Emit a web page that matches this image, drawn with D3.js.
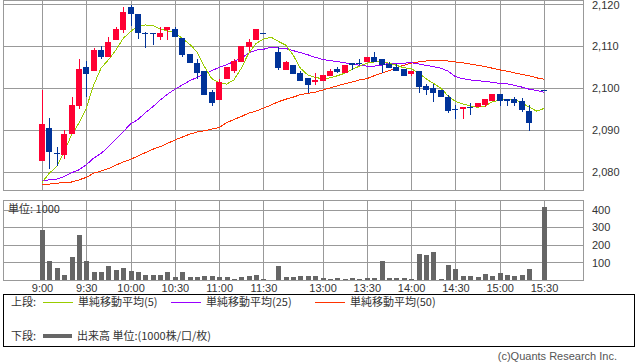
<!DOCTYPE html>
<html>
<head>
<meta charset="utf-8">
<script src="https://d3js.org/d3.v7.min.js"></script>
<style>
  body { margin: 0; background: #fff; }
  svg { display: block; font-family: "Liberation Sans", Arial, sans-serif; }
  .grid line { stroke: #999; shape-rendering: crispEdges; }
  .grid path { display: none; }
  .grid text { fill: #333; font-size: 11px; }
  .jp { font-family: "Noto Sans CJK JP", sans-serif; font-size: 11px; fill: #333; }
</style>
</head>
<body>
<svg width="638" height="362"></svg>
<script>
// 5-minute slots, lunch placeholder and closing-auction slot included
const times = ["9:00","9:05","9:10","9:15","9:20","9:25","9:30","9:35","9:40","9:45","9:50","9:55",
  "10:00","10:05","10:10","10:15","10:20","10:25","10:30","10:35","10:40","10:45","10:50","10:55",
  "11:00","11:05","11:10","11:15","11:20","11:25","11:30","昼休み",
  "12:30","12:35","12:40","12:45","12:50","12:55","13:00","13:05","13:10","13:15","13:20","13:25",
  "13:30","13:35","13:40","13:45","13:50","13:55","14:00","14:05","14:10","14:15","14:20","14:25",
  "14:30","14:35","14:40","14:45","14:50","14:55","15:00","15:05","15:10","15:15","15:20","15:25","15:30"];

const tickTimes = ["9:00","9:30","10:00","10:30","11:00","11:30","13:00","13:30","14:00","14:30","15:00","15:30"];
const priceTicks = [2080, 2090, 2100, 2110, 2120];
const volTicks = [100, 200, 300, 400];

const opens = [2082.7,2090.5,2084.5,2084.0,2089.0,2095.7,2105.0,2104.0,2109.0,2107.3,2111.3,2113.8,
  2119.2,2117.6,2113.0,2113.0,2112.2,2113.8,2114.0,2111.9,2108.1,2105.9,2104.1,2099.0,
  2097.1,2102.2,2104.0,2106.2,2109.8,2111.3,2113.0,null,
  2108.6,2104.3,2105.4,2103.6,2102.4,2101.3,2101.7,2102.9,2104.4,2103.5,2105.9,2106.0,
  2106.2,2107.3,2106.8,2105.7,2105.1,2104.4,2103.3,2104.1,2100.5,2100.0,2099.5,2097.9,
  2094.9,2094.9,2095.5,2095.5,2095.9,2096.8,2098.6,2097.3,2097.3,2097.0,2094.5,null,2099.5];
const highs = [2099.5,2092.9,2086.0,2090.0,2097.8,2106.8,2106.4,2109.6,2110.0,2112.1,2114.6,2119.2,
  2119.8,2117.6,2113.3,2113.0,2114.5,2114.5,2114.5,2111.9,2108.1,2106.8,2104.1,2099.5,
  2102.2,2105.1,2106.8,2110.0,2111.6,2114.1,2113.0,null,
  2109.8,2106.5,2105.4,2104.1,2102.4,2103.5,2103.0,2104.6,2105.1,2105.4,2105.9,2106.8,
  2107.3,2108.6,2106.8,2106.2,2105.6,2104.4,2104.1,2104.1,2101.0,2101.0,2099.5,2098.4,
  2095.9,2095.4,2096.3,2096.3,2097.3,2098.6,2098.6,2097.3,2097.8,2097.5,2095.9,null,2099.5];
const lows = [2082.7,2080.8,2081.3,2083.2,2089.0,2094.9,2097.8,2104.0,2106.8,2107.3,2111.3,2113.2,
  2114.8,2111.7,2109.4,2110.3,2111.3,2111.3,2112.2,2107.3,2105.9,2102.2,2098.4,2095.7,
  2097.1,2102.2,2103.5,2106.2,2108.9,2111.3,2113.0,null,
  2104.3,2104.3,2103.3,2101.7,2098.9,2100.8,2101.7,2102.9,2103.5,2103.5,2104.3,2105.4,
  2106.2,2106.2,2103.6,2104.8,2104.0,2102.9,2102.9,2098.9,2098.4,2096.7,2097.8,2094.0,
  2092.7,2092.7,2093.5,2095.5,2095.4,2096.8,2095.7,2095.7,2095.7,2094.3,2089.8,null,2099.5];
const closes = [2091.4,2084.8,2084.5,2089.0,2095.9,2104.4,2103.4,2109.0,2107.3,2111.0,2114.0,2118.1,
  2117.5,2113.0,2113.0,2113.0,2113.2,2114.5,2112.2,2107.9,2105.9,2103.5,2098.4,2096.4,
  2101.4,2105.1,2106.5,2110.0,2111.0,2114.1,2113.0,null,
  2104.8,2106.1,2103.3,2101.7,2100.8,2101.9,2103.0,2104.1,2103.9,2105.4,2105.4,2106.0,
  2107.3,2106.2,2105.4,2104.8,2104.0,2102.9,2104.1,2100.3,2099.4,2098.9,2097.8,2094.5,
  2094.9,2095.4,2095.5,2096.3,2097.3,2098.6,2097.0,2096.8,2096.3,2094.8,2091.7,null,2099.5];

// volume in units of 1000
const volumes = [287,109,70,29,131,257,109,44,44,80,55,69,
  51,44,29,29,29,44,17,44,17,17,23,23,
  17,17,6,17,23,29,3,null,
  80,17,17,23,23,23,10,6,10,6,10,6,
  10,10,109,10,10,10,6,147,141,158,6,86,
  63,23,23,17,32,23,40,29,23,29,63,null,417];

const ma5 = [2077.5,2079.7,2081.3,2084.8,2088.8,2091.6,2095.2,2100.7,2104.7,2106.7,2109.0,2111.8,
  2113.4,2114.8,2115.0,2114.9,2114.0,2113.6,2113.2,2111.8,2110.4,2108.6,2105.1,2102.2,
  2101.3,2100.9,2101.9,2104.7,2108.3,2110.6,2111.6,2112.1,
  2111.1,2110.2,2107.9,2104.7,2103.1,2102.5,2102.2,2102.4,2102.9,2103.5,2104.4,2105.2,
  2105.9,2106.2,2106.2,2105.9,2105.4,2104.8,2104.6,2103.6,2102.2,2101.1,2100.0,2098.1,
  2096.8,2096.2,2095.7,2095.4,2095.7,2096.7,2097.1,2097.3,2097.3,2096.5,2095.4,2094.5,2095.1];
const ma25 = [2078.0,2078.1,2078.3,2078.9,2079.8,2080.5,2081.7,2083.3,2084.4,2086.0,2087.8,2089.6,
  2091.4,2092.5,2094.1,2095.5,2097.1,2098.5,2099.7,2100.7,2101.7,2102.5,2103.3,2104.1,
  2104.9,2105.5,2106.3,2107.1,2108.3,2109.0,2109.2,2109.7,
  2109.5,2109.4,2108.9,2108.4,2107.9,2107.3,2106.8,2106.5,2106.3,2106.0,2105.7,2105.4,
  2105.2,2105.2,2105.4,2105.9,2105.9,2105.9,2106.0,2105.7,2105.4,2105.1,2104.7,2104.0,
  2102.7,2102.2,2101.9,2101.7,2101.6,2101.3,2101.1,2101.0,2100.6,2100.2,2099.7,2099.4,2099.0];
const ma50 = [2077.0,2077.1,2077.3,2077.5,2077.6,2078.1,2078.7,2079.7,2080.2,2080.8,2081.6,2082.4,
  2083.0,2083.8,2084.6,2085.4,2086.0,2086.8,2087.6,2088.3,2089.0,2089.5,2089.8,2090.2,
  2090.6,2091.7,2092.5,2093.2,2094.0,2094.5,2095.2,2095.9,
  2096.7,2097.3,2097.8,2098.4,2098.7,2099.0,2099.5,2100.0,2100.5,2101.0,2101.4,2101.9,
  2102.2,2102.9,2103.5,2104.1,2104.8,2105.4,2105.9,2106.2,2106.4,2106.6,2106.6,2106.4,
  2106.2,2106.0,2105.7,2105.4,2105.1,2104.7,2104.3,2104.0,2103.6,2103.2,2102.9,2102.4,2102.1];

document.addEventListener('DOMContentLoaded', () => {

    const svg = d3.select("svg"),
          left = 3,
          right = 583;

    const x = d3.scalePoint().domain(times).range([left, right]).padding(5.28);
    const y = d3.scaleLinear().domain([2075.7, 2120.7]).range([190, 1]);
    const yv = d3.scaleLinear().domain([0, 451]).range([280, 201]);

    const bars = times.map((t, i) => ({
        t: t, o: opens[i], h: highs[i], l: lows[i], c: closes[i], v: volumes[i]
    }));
    const cx = d => Math.round(x(d.t));

    // upper panel grid + price labels
    svg.append("g")
        .attr("class", "grid")
        .attr("transform", "translate(0,190)")
        .call(d3.axisBottom(x).tickValues(tickTimes).tickSize(-189).tickFormat(""));

    const priceAxis = svg.append("g")
        .attr("class", "grid")
        .attr("transform", "translate(" + right + ",0)")
        .call(d3.axisRight(y).tickValues(priceTicks).tickSize(-(right - left)).tickPadding(9)
            .tickFormat(d3.format(",")));
    // keep the top label inside the picture
    priceAxis.selectAll("text").filter(d => d === 2120).attr("dy", "0.42em");

    svg.append("rect")
        .attr("x", left + 0.5).attr("y", 0.5)
        .attr("width", right - left).attr("height", 190)
        .attr("fill", "none").attr("stroke", "#999")
        .attr("shape-rendering", "crispEdges");

    // lower panel grid + volume labels
    svg.append("g")
        .attr("class", "grid")
        .attr("transform", "translate(0,280)")
        .call(d3.axisBottom(x).tickValues(tickTimes).tickSize(-79).tickPadding(4));

    svg.append("g")
        .attr("class", "grid")
        .attr("transform", "translate(" + right + ",0)")
        .call(d3.axisRight(yv).tickValues(volTicks).tickSize(-(right - left)).tickPadding(9));

    svg.append("rect")
        .attr("x", left + 0.5).attr("y", 200.5)
        .attr("width", right - left).attr("height", 80)
        .attr("fill", "none").attr("stroke", "#999")
        .attr("shape-rendering", "crispEdges");

    svg.append("text")
        .attr("class", "jp")
        .attr("x", 8).attr("y", 213)
        .text("単位: 1000");

    // moving averages
    const maLine = d3.line()
        .defined(d => d.v != null)
        .x(d => x(d.t))
        .y(d => y(d.v));

    [[ma50, "#ff3300"], [ma25, "#9900ff"], [ma5, "#99cc00"]].forEach(([vals, col]) => {
        svg.append("path")
            .datum(times.map((t, i) => ({ t: t, v: vals[i] })))
            .attr("fill", "none")
            .attr("stroke", col)
            .attr("stroke-width", 1)
            .attr("shape-rendering", "crispEdges")
            .attr("d", maLine);
    });

    // candles
    const up = "#ff0033", down = "#003399";
    const candles = svg.append("g").selectAll("g")
        .data(bars.filter(d => d.o != null))
        .enter().append("g")
        .attr("shape-rendering", "crispEdges");

    candles.append("line")
        .attr("x1", d => cx(d) + 0.5).attr("x2", d => cx(d) + 0.5)
        .attr("y1", d => y(d.h)).attr("y2", d => y(d.l))
        .attr("stroke", d => d.c > d.o ? up : down);

    candles.append("rect")
        .attr("x", d => cx(d) - 3)
        .attr("y", d => Math.min(y(d.o), y(d.c)))
        .attr("width", 6)
        .attr("height", d => Math.max(1, Math.abs(y(d.o) - y(d.c))))
        .attr("fill", d => d.c > d.o ? up : down);

    // volume
    svg.append("g").selectAll("rect")
        .data(bars.filter(d => d.v != null))
        .enter().append("rect")
        .attr("x", d => cx(d) - 2)
        .attr("y", d => yv(d.v))
        .attr("width", 5)
        .attr("height", d => yv(0) - yv(d.v))
        .attr("fill", "#666")
        .attr("shape-rendering", "crispEdges");

    // legend
    const lg = svg.append("g");
    lg.append("rect")
        .attr("x", 3.5).attr("y", 294.5).attr("width", 631).attr("height", 52)
        .attr("fill", "none").attr("stroke", "#000");

    lg.append("text").attr("class", "jp").attr("x", 11).attr("y", 306).text("上段:");
    const items = [["単純移動平均(5)", "#99cc00", 43], ["単純移動平均(25)", "#9900ff", 171], ["単純移動平均(50)", "#ff3300", 315]];
    items.forEach(([label, col, lx]) => {
        lg.append("line")
            .attr("x1", lx).attr("x2", lx + 30).attr("y1", 302.5).attr("y2", 302.5)
            .attr("stroke", col);
        lg.append("text").attr("class", "jp").attr("x", lx + 35).attr("y", 306).text(label);
    });

    lg.append("text").attr("class", "jp").attr("x", 11).attr("y", 340).text("下段:");
    lg.append("line")
        .attr("x1", 43).attr("x2", 72).attr("y1", 336).attr("y2", 336)
        .attr("stroke", "#666").attr("stroke-width", 4);
    lg.append("text").attr("class", "jp").attr("x", 77).attr("y", 340).text("出来高 単位:(1000株/口/枚)");

    svg.append("text")
        .attr("x", 617).attr("y", 360)
        .attr("text-anchor", "end")
        .attr("font-size", 11)
        .attr("fill", "#555")
        .text("(c)Quants Research Inc.");
});
</script>
</body>
</html>
